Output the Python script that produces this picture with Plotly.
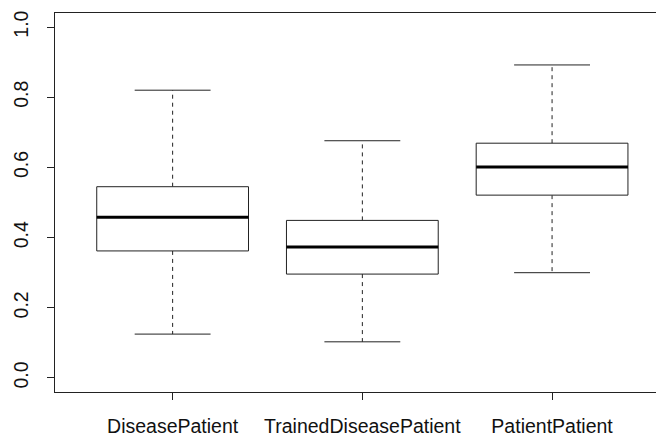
import plotly.graph_objects as go

categories = ["DiseasePatient", "TrainedDiseasePatient", "PatientPatient"]
lower_whisker = [0.125, 0.103, 0.300]
q1 = [0.362, 0.296, 0.521]
median = [0.458, 0.373, 0.601]
q3 = [0.545, 0.449, 0.669]
upper_whisker = [0.820, 0.676, 0.892]
y_ticks = [0.0, 0.2, 0.4, 0.6, 0.8, 1.0]

positions = list(range(1, len(categories) + 1))
BOX_HALF = 0.4
CAP_HALF = 0.2
LINE = "#222222"

bx, by, mx, my, wx, wy, cx, cy = [], [], [], [], [], [], [], []
for p, lo, a, m, b, hi in zip(positions, lower_whisker, q1, median, q3, upper_whisker):
    bx += [p - BOX_HALF, p + BOX_HALF, p + BOX_HALF, p - BOX_HALF, p - BOX_HALF, None]
    by += [a, a, b, b, a, None]
    mx += [p - BOX_HALF, p + BOX_HALF, None]
    my += [m, m, None]
    wx += [p, p, None, p, p, None]
    wy += [b, hi, None, a, lo, None]
    cx += [p - CAP_HALF, p + CAP_HALF, None, p - CAP_HALF, p + CAP_HALF, None]
    cy += [hi, hi, None, lo, lo, None]

fig = go.Figure()
fig.add_trace(go.Scatter(x=wx, y=wy, mode="lines",
                         line=dict(color=LINE, width=1, dash="4px,4px"), hoverinfo="skip"))
fig.add_trace(go.Scatter(x=cx, y=cy, mode="lines",
                         line=dict(color=LINE, width=1), hoverinfo="skip"))
fig.add_trace(go.Scatter(x=bx, y=by, mode="lines", fill="toself", fillcolor="white",
                         line=dict(color=LINE, width=1), hoverinfo="skip"))
fig.add_trace(go.Scatter(x=mx, y=my, mode="lines",
                         line=dict(color="black", width=3), hoverinfo="skip"))

# page body has an 8px margin, so the figure is sized to fill the rest of the window
fig.update_layout(
    width=656, height=428,
    margin=dict(l=47, r=0, t=5, b=44),
    plot_bgcolor="white", paper_bgcolor="white",
    showlegend=False,
    font=dict(family="Liberation Sans, Arial, sans-serif", size=19.5, color="#111111"),
)
fig.update_xaxes(
    range=[0.38, 3.59], tickvals=positions, ticktext=categories,
    showgrid=False, zeroline=False,
    showline=True, linecolor=LINE, linewidth=1, mirror=True,
    ticks="outside", ticklen=7, tickcolor=LINE, ticklabelstandoff=10,
)
fig.update_yaxes(
    range=[-0.04, 1.04], tickvals=y_ticks, ticktext=[f"{v:.1f}" for v in y_ticks],
    tickangle=-90,
    showgrid=False, zeroline=False,
    showline=True, linecolor=LINE, linewidth=1, mirror=False,
    ticks="outside", ticklen=7, tickcolor=LINE, ticklabelstandoff=11,
)

fig.write_html("out.html")
